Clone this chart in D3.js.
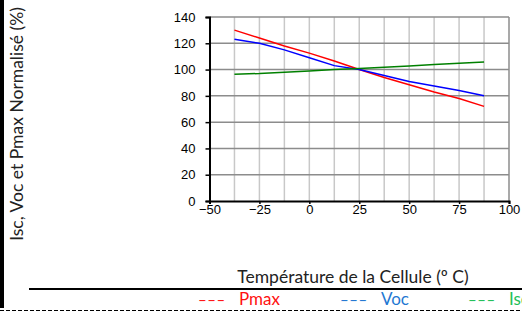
<!DOCTYPE html>
<html>
<head>
<meta charset="utf-8">
<script src="https://cdn.jsdelivr.net/npm/d3@7"></script>
<style>
  body { margin: 0; background: #fff; }
  svg { display: block; }
</style>
</head>
<body>
<svg id="chart" width="522" height="312"></svg>
<script>
// temperatures (deg C) and normalised values (%)
var temps = [-37.5, -25, -12.5, 0, 12.5, 25, 37.5, 50, 62.5, 75, 87.5];
var pmax = [130, 124, 118, 112.5, 106.5, 100, 94, 88.5, 83, 78, 72];
var voc = [123, 120, 115, 109, 103, 100, 95.5, 91, 87.5, 84, 80];
var isc = [96.5, 97, 98, 99, 100, 100.8, 101.8, 102.8, 103.8, 104.8, 105.8];

var xTicks = [-50, -25, 0, 25, 50, 75, 100];
var xGrid = [-37.5, -25, -12.5, 0, 12.5, 25, 37.5, 50, 62.5, 75, 87.5];
var yTicks = [0, 20, 40, 60, 80, 100, 120, 140];

var svg = d3.select('#chart');

var x = d3.scaleLinear().domain([-50, 100]).range([209.5, 509]);
var y = d3.scaleLinear().domain([0, 140]).range([201, 17]);

// vertical grid
svg.selectAll('line.vg')
    .data(xGrid)
    .enter()
    .append('line')
    .attr('x1', function(d) { return x(d); })
    .attr('x2', function(d) { return x(d); })
    .attr('y1', y(140))
    .attr('y2', y(0))
    .attr('stroke', '#c8c8c8')
    .attr('stroke-width', 1.5);

// horizontal grid
svg.selectAll('line.hg')
    .data(yTicks.slice(1))
    .enter()
    .append('line')
    .attr('x1', x(-50))
    .attr('x2', x(100))
    .attr('y1', function(d) { return y(d); })
    .attr('y2', function(d) { return y(d); })
    .attr('stroke', '#8c8c8c')
    .attr('stroke-width', 1.5);

// right border
svg.append('line')
    .attr('x1', x(100)).attr('x2', x(100))
    .attr('y1', y(140)).attr('y2', y(0))
    .attr('stroke', '#8c8c8c')
    .attr('stroke-width', 1.5);

// axes
var yAxis = d3.axisLeft(y).tickValues(yTicks).tickSize(4).tickPadding(10);
var gy = svg.append('g')
    .attr('transform', 'translate(' + x(-50) + ',0)')
    .call(yAxis);

var xAxis = d3.axisBottom(x).tickValues(xTicks).tickSize(3).tickPadding(1);
var gx = svg.append('g')
    .attr('transform', 'translate(0,' + y(0) + ')')
    .call(xAxis);

[gx, gy].forEach(function(g) {
    g.select('.domain').attr('stroke', '#000').attr('stroke-width', 2);
    g.selectAll('.tick line').attr('stroke', '#000').attr('stroke-width', 1.5);
    g.selectAll('text')
        .attr('font-family', 'Liberation Sans, Arial, sans-serif')
        .attr('font-size', 13)
        .attr('fill', '#000');
});

// series
var line = d3.line()
    .x(function(d) { return x(d[0]); })
    .y(function(d) { return y(d[1]); });

var series = [
    { vals: pmax, color: '#ff0000' },
    { vals: voc, color: '#0000ff' },
    { vals: isc, color: '#008000' }
];
series.forEach(function(s) {
    svg.append('path')
        .datum(temps.map(function(t, i) { return [t, s.vals[i]]; }))
        .attr('d', line)
        .attr('fill', 'none')
        .attr('stroke', s.color)
        .attr('stroke-width', 1.5);
});

// axis titles
svg.append('text')
    .attr('transform', 'translate(23,124) rotate(-90)')
    .attr('text-anchor', 'middle')
    .attr('font-family', 'Lato, sans-serif')
    .attr('font-size', 17.5)
    .attr('fill', '#222')
    .text('Isc, Voc et Pmax Normalisé (%)');

svg.append('text')
    .attr('x', 353)
    .attr('y', 283)
    .attr('text-anchor', 'middle')
    .attr('font-family', 'Lato, sans-serif')
    .attr('font-size', 17.5)
    .attr('fill', '#222')
    .text('Température de la Cellule (º C)');

// frame bits
svg.append('rect').attr('x', 0).attr('y', 0).attr('width', 4).attr('height', 308).attr('fill', '#000');
svg.append('line')
    .attr('x1', 29).attr('x2', 522)
    .attr('y1', 289).attr('y2', 289)
    .attr('stroke', '#000').attr('stroke-width', 2);
svg.append('line')
    .attr('x1', 0).attr('x2', 522)
    .attr('y1', 310.5).attr('y2', 310.5)
    .attr('stroke', '#000').attr('stroke-width', 1)
    .attr('stroke-dasharray', '4,2');

// legend (the last entry runs off the right edge, as in the original)
var legNames = ['Pmax', 'Voc', 'Isc'];
var legColors = ['#ff1010', '#1f78d2', '#1fc05a'];
var legX = [198, 340, 468];
legNames.forEach(function(n, i) {
    svg.append('text')
        .attr('x', legX[i]).attr('y', 305)
        .attr('font-family', 'Lato, sans-serif')
        .attr('font-size', 15)
        .attr('letter-spacing', 0.5)
        .attr('fill', legColors[i])
        .text('–––');
    svg.append('text')
        .attr('x', legX[i] + 41).attr('y', 305)
        .attr('font-family', 'Lato, sans-serif')
        .attr('font-size', 17)
        .attr('fill', legColors[i])
        .text(n);
});
</script>
</body>
</html>
